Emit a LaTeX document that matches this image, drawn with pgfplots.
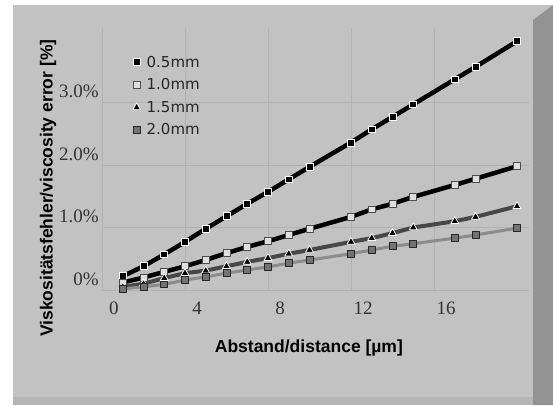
\documentclass[border=0pt]{standalone}
\usepackage{fontspec}
\setmainfont{Liberation Serif}
\newfontfamily\sansf{Liberation Sans}
\newfontfamily\legf{DejaVu Sans}
\usepackage{pgfplots}
\pgfplotsset{compat=1.18}

% series: distance [um] vs viscosity error [%]
\pgfplotstableread{
x    a     b     c     d
1    0.22  0.12  0.05  0.02
2    0.38  0.20  0.10  0.05
3    0.57  0.29  0.19  0.09
4    0.77  0.38  0.27  0.16
5    0.98  0.48  0.31  0.21
6    1.18  0.59  0.38  0.27
7    1.38  0.69  0.45  0.32
8    1.57  0.78  0.51  0.37
9    1.77  0.88  0.58  0.43
10   1.97  0.98  0.64  0.48
12   2.36  1.17  0.77  0.58
13   2.57  1.29  0.83  0.64
14   2.77  1.38  0.91  0.70
15   2.97  1.49  1.00  0.74
17   3.37  1.68  1.10  0.83
18   3.57  1.78  1.17  0.88
20   3.98  1.98  1.34  0.99
}\visc

\begin{document}
\begin{tikzpicture}
% chart area (1pt = 1px of the reference, origin = data (0,0))
\fill[white] (-101pt,-115pt) rectangle (452pt,290pt);
\fill[gray!48] (-88pt,-115pt) rectangle (452pt,285pt);
\fill[gray!58] (-88pt,-115pt) rectangle (452pt,-107pt);
\fill[gray!85] (432pt,270pt) -- (452pt,285pt) -- (452pt,-115pt) -- (432pt,-115pt) -- cycle;
\begin{axis}[
    at={(1pt,0pt)}, anchor=origin,
    x=20.75pt, y=62.5pt,
    xmin=0, xmax=20.6, ymin=0, ymax=4.2,
    clip=false,
    axis line style={draw=none},
    tick style={draw=none},
    grid=major,
    major grid style={gray!60, line width=0.5pt},
    xtick={0,4,8,12,16},
    xticklabels={0,4,8,12,16},
    ytick={0,1,2,3},
    yticklabels={0\%,1.0\%,2.0\%,3.0\%},
    tick label style={font=\fontsize{19}{22}\selectfont, text=black!80},
    xticklabel style={anchor=center, yshift=-18pt, xshift=12pt},
    yticklabel style={anchor=east, inner sep=0pt, xshift=-3pt, yshift=11pt},
    xlabel={Abstand/distance [µm]},
    ylabel={Viskositätsfehler/viscosity error [\%]},
    label style={font=\sansf\bfseries\fontsize{17.5}{20}\selectfont},
    xlabel style={at={(axis cs:9.97,-0.93)}, anchor=center},
    ylabel style={at={(axis cs:-2.6,1.63)}, anchor=center},
    legend style={at={(axis cs:1.47,3.78)}, anchor=north west, draw=none, fill=none,
        inner sep=0pt, row sep=6pt, column sep=4pt,
        nodes={font=\legf\fontsize{15}{17}\selectfont, inner sep=2pt, text=black!85}},
    legend cell align=left,
    legend image code/.code={\draw[#1, only marks] plot coordinates {(0.15cm,0cm)};},
    every axis plot/.append style={line join=round},
]
\addplot[black, line width=4.5pt, mark=square*, mark size=3.4pt,
    mark options={solid, fill=black, draw=white, line width=0.8pt}]
    table[x=x, y=a] {\visc};
\addlegendentry{0.5mm}
\addplot[black, line width=4.5pt, mark=square*, mark size=3.4pt,
    mark options={solid, fill=gray!25, draw=black!70, line width=0.8pt}]
    table[x=x, y=b] {\visc};
\addlegendentry{1.0mm}
\addplot[black!72, line width=4pt, mark=triangle*, mark size=4.6pt,
    mark options={solid, fill=black, draw=white, line width=0.8pt}]
    table[x=x, y=c] {\visc};
\addlegendentry{1.5mm}
\addplot[black!45, line width=3pt, mark=square*, mark size=3.4pt,
    mark options={solid, fill=black!55, draw=black!85, line width=0.8pt}]
    table[x=x, y=d] {\visc};
\addlegendentry{2.0mm}
\end{axis}
\pgfresetboundingbox
\useasboundingbox (-101pt,-115pt) rectangle (452pt,290pt);
\end{tikzpicture}
\end{document}
